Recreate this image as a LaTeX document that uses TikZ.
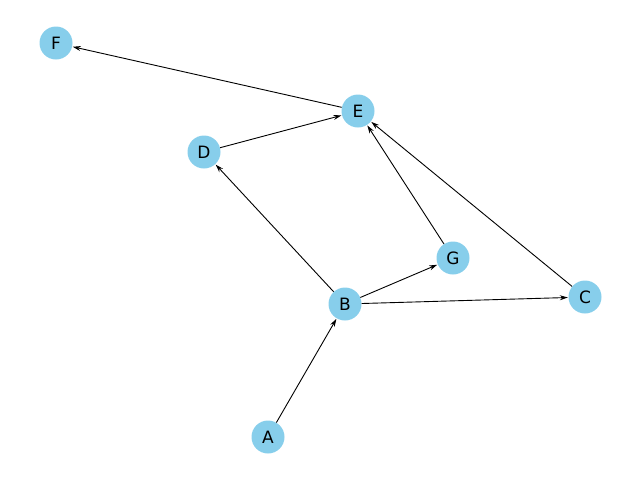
\documentclass[tikz,border=0pt]{standalone}
\usepackage{fontspec}
\setmainfont{DejaVu Sans}
\usetikzlibrary{arrows.meta}
\definecolor{sky}{HTML}{87CEEB}
\begin{document}
\begin{tikzpicture}[x=1pt,y=-1pt,
  nd/.style={circle,fill=sky,minimum size=33pt,inner sep=0pt,font=\fontsize{17}{20}\selectfont},
  ed/.style={-{Stealth[length=8pt,width=5pt]},line width=0.9pt,shorten >=0.5pt}]
\useasboundingbox (0,0) rectangle (640,480);
\node[nd] (F) at (56,43) {F};
\node[nd] (E) at (358,111) {E};
\node[nd] (D) at (204,152) {D};
\node[nd] (G) at (453,258) {G};
\node[nd] (C) at (585,297) {C};
\node[nd] (B) at (345,304) {B};
\node[nd] (A) at (268,437) {A};
\draw[ed] (E) -- (F);
\draw[ed] (D) -- (E);
\draw[ed] (G) -- (E);
\draw[ed] (C) -- (E);
\draw[ed] (B) -- (D);
\draw[ed] (B) -- (G);
\draw[ed] (B) -- (C);
\draw[ed] (A) -- (B);
\end{tikzpicture}
\end{document}
